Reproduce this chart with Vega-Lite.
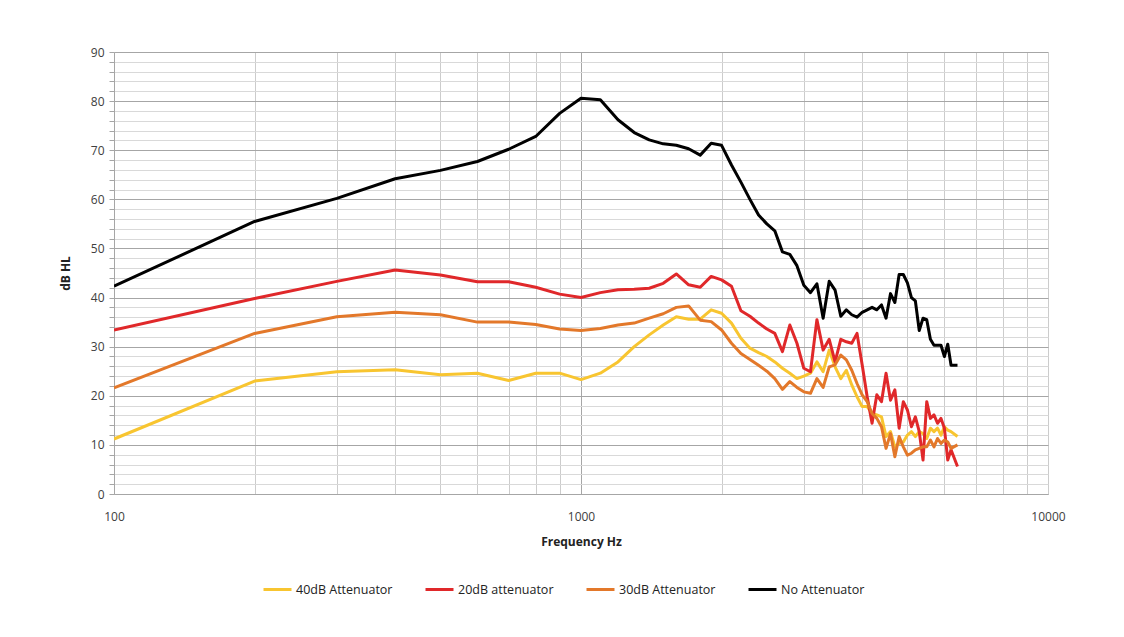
{
  "$schema": "https://vega.github.io/schema/vega-lite/v6.json",
  "width": 934,
  "height": 442,
  "autosize": {"type": "none"},
  "padding": {"left": 114, "top": 52, "right": 76, "bottom": 143},
  "background": "white",
  "config": {"view": {"stroke": null}, "font": "Open Sans"},
  "data": {"values": [
    {"f":100,"40dB Attenuator":11.2,"20dB attenuator":33.4,"30dB Attenuator":21.6,"No Attenuator":42.3},
    {"f":200,"40dB Attenuator":23.0,"20dB attenuator":39.8,"30dB Attenuator":32.7,"No Attenuator":55.5},
    {"f":300,"40dB Attenuator":24.9,"20dB attenuator":43.3,"30dB Attenuator":36.1,"No Attenuator":60.2},
    {"f":400,"40dB Attenuator":25.3,"20dB attenuator":45.6,"30dB Attenuator":37.0,"No Attenuator":64.2},
    {"f":500,"40dB Attenuator":24.3,"20dB attenuator":44.6,"30dB Attenuator":36.5,"No Attenuator":65.9},
    {"f":600,"40dB Attenuator":24.6,"20dB attenuator":43.2,"30dB Attenuator":35.0,"No Attenuator":67.7},
    {"f":700,"40dB Attenuator":23.1,"20dB attenuator":43.2,"30dB Attenuator":35.0,"No Attenuator":70.2},
    {"f":800,"40dB Attenuator":24.6,"20dB attenuator":42.1,"30dB Attenuator":34.5,"No Attenuator":72.8},
    {"f":900,"40dB Attenuator":24.6,"20dB attenuator":40.7,"30dB Attenuator":33.6,"No Attenuator":77.5},
    {"f":1000,"40dB Attenuator":23.3,"20dB attenuator":40.0,"30dB Attenuator":33.3,"No Attenuator":80.6},
    {"f":1100,"40dB Attenuator":24.6,"20dB attenuator":41.0,"30dB Attenuator":33.7,"No Attenuator":80.3},
    {"f":1200,"40dB Attenuator":26.9,"20dB attenuator":41.6,"30dB Attenuator":34.4,"No Attenuator":76.2},
    {"f":1300,"40dB Attenuator":30.0,"20dB attenuator":41.7,"30dB Attenuator":34.8,"No Attenuator":73.6},
    {"f":1400,"40dB Attenuator":32.4,"20dB attenuator":41.9,"30dB Attenuator":35.8,"No Attenuator":72.1},
    {"f":1500,"40dB Attenuator":34.4,"20dB attenuator":42.9,"30dB Attenuator":36.7,"No Attenuator":71.3},
    {"f":1600,"40dB Attenuator":36.1,"20dB attenuator":44.8,"30dB Attenuator":38.0,"No Attenuator":71.0},
    {"f":1700,"40dB Attenuator":35.6,"20dB attenuator":42.6,"30dB Attenuator":38.3,"No Attenuator":70.3},
    {"f":1800,"40dB Attenuator":35.6,"20dB attenuator":42.1,"30dB Attenuator":35.4,"No Attenuator":69.0},
    {"f":1900,"40dB Attenuator":37.5,"20dB attenuator":44.3,"30dB Attenuator":35.1,"No Attenuator":71.4},
    {"f":2000,"40dB Attenuator":36.8,"20dB attenuator":43.6,"30dB Attenuator":33.4,"No Attenuator":71.0},
    {"f":2100,"40dB Attenuator":34.8,"20dB attenuator":42.3,"30dB Attenuator":30.7,"No Attenuator":67.0},
    {"f":2200,"40dB Attenuator":31.7,"20dB attenuator":37.3,"30dB Attenuator":28.6,"No Attenuator":63.5},
    {"f":2300,"40dB Attenuator":29.7,"20dB attenuator":36.2,"30dB Attenuator":27.4,"No Attenuator":60.0},
    {"f":2400,"40dB Attenuator":28.8,"20dB attenuator":34.8,"30dB Attenuator":26.2,"No Attenuator":56.8},
    {"f":2500,"40dB Attenuator":28.0,"20dB attenuator":33.6,"30dB Attenuator":25.0,"No Attenuator":55.0},
    {"f":2600,"40dB Attenuator":26.9,"20dB attenuator":32.7,"30dB Attenuator":23.5,"No Attenuator":53.6},
    {"f":2700,"40dB Attenuator":25.6,"20dB attenuator":29.0,"30dB Attenuator":21.3,"No Attenuator":49.3},
    {"f":2800,"40dB Attenuator":24.6,"20dB attenuator":34.4,"30dB Attenuator":22.9,"No Attenuator":48.8},
    {"f":2900,"40dB Attenuator":23.5,"20dB attenuator":30.7,"30dB Attenuator":21.7,"No Attenuator":46.5},
    {"f":3000,"40dB Attenuator":24.0,"20dB attenuator":25.6,"30dB Attenuator":20.8,"No Attenuator":42.5},
    {"f":3100,"40dB Attenuator":24.6,"20dB attenuator":24.9,"30dB Attenuator":20.5,"No Attenuator":41.0},
    {"f":3200,"40dB Attenuator":26.9,"20dB attenuator":35.5,"30dB Attenuator":23.5,"No Attenuator":42.8},
    {"f":3300,"40dB Attenuator":24.9,"20dB attenuator":29.3,"30dB Attenuator":21.7,"No Attenuator":35.8},
    {"f":3400,"40dB Attenuator":29.3,"20dB attenuator":31.5,"30dB Attenuator":25.9,"No Attenuator":43.3},
    {"f":3500,"40dB Attenuator":25.9,"20dB attenuator":26.9,"30dB Attenuator":26.3,"No Attenuator":41.5},
    {"f":3600,"40dB Attenuator":23.5,"20dB attenuator":31.5,"30dB Attenuator":28.3,"No Attenuator":36.2},
    {"f":3700,"40dB Attenuator":25.2,"20dB attenuator":31.0,"30dB Attenuator":27.3,"No Attenuator":37.5},
    {"f":3800,"40dB Attenuator":22.2,"20dB attenuator":30.7,"30dB Attenuator":25.2,"No Attenuator":36.5},
    {"f":3900,"40dB Attenuator":19.8,"20dB attenuator":32.7,"30dB Attenuator":22.5,"No Attenuator":36.0},
    {"f":4000,"40dB Attenuator":17.8,"20dB attenuator":26.3,"30dB Attenuator":20.2,"No Attenuator":37.0},
    {"f":4100,"40dB Attenuator":17.8,"20dB attenuator":19.8,"30dB Attenuator":18.8,"No Attenuator":37.5},
    {"f":4200,"40dB Attenuator":16.4,"20dB attenuator":14.4,"30dB Attenuator":16.4,"No Attenuator":38.0},
    {"f":4300,"40dB Attenuator":16.1,"20dB attenuator":20.2,"30dB Attenuator":15.4,"No Attenuator":37.5},
    {"f":4400,"40dB Attenuator":15.7,"20dB attenuator":18.8,"30dB Attenuator":13.7,"No Attenuator":38.5},
    {"f":4500,"40dB Attenuator":11.7,"20dB attenuator":24.6,"30dB Attenuator":9.3,"No Attenuator":35.8},
    {"f":4600,"40dB Attenuator":12.7,"20dB attenuator":19.1,"30dB Attenuator":12.3,"No Attenuator":40.8},
    {"f":4700,"40dB Attenuator":9.6,"20dB attenuator":21.2,"30dB Attenuator":7.6,"No Attenuator":39.0},
    {"f":4800,"40dB Attenuator":10.3,"20dB attenuator":13.4,"30dB Attenuator":11.7,"No Attenuator":44.7},
    {"f":4900,"40dB Attenuator":10.6,"20dB attenuator":18.8,"30dB Attenuator":9.6,"No Attenuator":44.7},
    {"f":5000,"40dB Attenuator":12.0,"20dB attenuator":17.1,"30dB Attenuator":7.9,"No Attenuator":43.0},
    {"f":5100,"40dB Attenuator":12.7,"20dB attenuator":13.7,"30dB Attenuator":8.3,"No Attenuator":40.0},
    {"f":5200,"40dB Attenuator":11.7,"20dB attenuator":15.7,"30dB Attenuator":9.0,"No Attenuator":39.3},
    {"f":5300,"40dB Attenuator":12.7,"20dB attenuator":12.7,"30dB Attenuator":9.3,"No Attenuator":33.3},
    {"f":5400,"40dB Attenuator":12.3,"20dB attenuator":6.9,"30dB Attenuator":9.6,"No Attenuator":35.8},
    {"f":5500,"40dB Attenuator":11.3,"20dB attenuator":18.8,"30dB Attenuator":9.6,"No Attenuator":35.5},
    {"f":5600,"40dB Attenuator":13.4,"20dB attenuator":15.4,"30dB Attenuator":11.0,"No Attenuator":31.5},
    {"f":5700,"40dB Attenuator":12.7,"20dB attenuator":16.1,"30dB Attenuator":9.6,"No Attenuator":30.3},
    {"f":5800,"40dB Attenuator":13.4,"20dB attenuator":14.4,"30dB Attenuator":11.3,"No Attenuator":30.3},
    {"f":5900,"40dB Attenuator":12.0,"20dB attenuator":15.4,"30dB Attenuator":10.3,"No Attenuator":30.3},
    {"f":6000,"40dB Attenuator":13.7,"20dB attenuator":13.4,"30dB Attenuator":11.0,"No Attenuator":28.0},
    {"f":6100,"40dB Attenuator":13.0,"20dB attenuator":6.9,"30dB Attenuator":10.6,"No Attenuator":30.5},
    {"f":6200,"40dB Attenuator":12.7,"20dB attenuator":9.0,"30dB Attenuator":9.3,"No Attenuator":26.2},
    {"f":6400,"40dB Attenuator":11.7,"20dB attenuator":5.6,"30dB Attenuator":10.0,"No Attenuator":26.2}
  ]},
  "transform": [
    {"fold": ["40dB Attenuator", "20dB attenuator", "30dB Attenuator", "No Attenuator"], "as": ["series", "dB"]}
  ],
  "mark": {"type": "line", "strokeWidth": 3, "strokeJoin": "round", "clip": true},
  "encoding": {
    "x": {
      "field": "f",
      "type": "quantitative",
      "scale": {"type": "log", "domain": [100, 10000], "nice": false},
      "axis": {
        "title": "Frequency Hz",
        "values": [100,200,300,400,500,600,700,800,900,1000,2000,3000,4000,5000,6000,7000,8000,9000,10000],
        "format": "d",
        "labelExpr": "(datum.value == 100 || datum.value == 1000 || datum.value == 10000) ? datum.label : ''",
        "ticks": false,
        "labelPadding": 17,
        "labelFontSize": 12,
        "labelColor": "#404040",
        "labelFlush": false,
        "labelOverlap": false,
        "titleFontSize": 12,
        "titleFontWeight": "bold",
        "titleColor": "#222222",
        "titlePadding": 14,
        "domainColor": "#a6a6a6",
        "gridColor": {"condition": {"test": "datum.value == 1000", "value": "#a6a6a6"}, "value": "#cccccc"},
        "gridWidth": 1
      }
    },
    "y": {
      "field": "dB",
      "type": "quantitative",
      "scale": {"domain": [0, 90], "nice": false},
      "axis": {
        "title": "dB HL",
        "values": [0,2,4,6,8,10,12,14,16,18,20,22,24,26,28,30,32,34,36,38,40,42,44,46,48,50,52,54,56,58,60,62,64,66,68,70,72,74,76,78,80,82,84,86,88,90],
        "labelExpr": "datum.value % 10 == 0 ? datum.label : ''",
        "tickSize": 5,
        "tickColor": "#a6a6a6",
        "labelPadding": 5,
        "labelFontSize": 12,
        "labelColor": "#404040",
        "labelOverlap": false,
        "titleFontSize": 12,
        "titleFontWeight": "bold",
        "titleColor": "#222222",
        "titlePadding": 18,
        "domainColor": "#a6a6a6",
        "gridColor": {"condition": {"test": "datum.value % 10 == 0", "value": "#a6a6a6"}, "value": "#d9d9d9"},
        "gridWidth": 1
      }
    },
    "color": {
      "field": "series",
      "type": "nominal",
      "scale": {
        "domain": ["40dB Attenuator", "20dB attenuator", "30dB Attenuator", "No Attenuator"],
        "range": ["#f8c530", "#e0282a", "#e3782a", "#000000"]
      },
      "legend": {
        "title": null,
        "orient": "none",
        "legendX": 148,
        "legendY": 522,
        "direction": "horizontal",
        "symbolType": "stroke",
        "symbolSize": 784,
        "symbolStrokeWidth": 3,
        "labelFontSize": 12.5,
        "labelColor": "#222222",
        "labelOffset": 3,
        "columnPadding": 26
      }
    }
  }
}
